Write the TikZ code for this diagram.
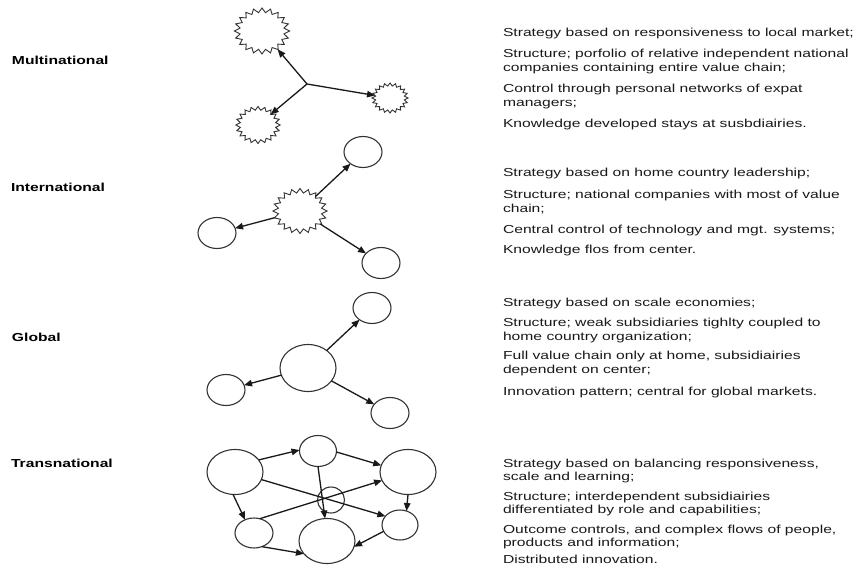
\documentclass[tikz,border=0pt]{standalone}
\usepackage{fontspec}
\setmainfont{Liberation Sans}
\newfontfamily\bodyfont[FakeStretch=1.35]{Liberation Sans}
\usetikzlibrary{shapes.geometric,arrows.meta}

\begin{document}
\begin{tikzpicture}[x=1pt,y=-1pt,
  every node/.style={inner sep=0pt, outer sep=0pt},
  sub/.style={ellipse, draw=black!80, line width=1.1pt, fill=white,
    minimum width=38pt, minimum height=31pt},
  hub/.style={sub, minimum width=56pt, minimum height=46pt},
  burst/.style={star, star points=20, star point ratio=1.24, draw=black!80,
    line width=0.9pt, fill=white, xscale=1.2},
  link/.style={line width=1.3pt, draw=black!90,
    -{Triangle[length=8pt,width=6.5pt]}},
  typelabel/.style={anchor=base west, text=black,
    font=\bodyfont\bfseries\fontsize{11.6}{13}\selectfont},
  note/.style={anchor=base west, text=black!90,
    font=\bodyfont\fontsize{11.6}{13}\selectfont},
]
\fill[white] (0,0) rectangle (858,564);
\useasboundingbox (0,0) rectangle (858,564);

% ---------- row labels ----------
\node[typelabel] (lab1) at (12,64.5) {Multinational};
\node[typelabel] (lab2) at (11,191.5) {International};
\node[typelabel] (lab3) at (12,341.5) {Global};
\node[typelabel] (lab4) at (11,467.5) {Transnational};

% ---------- multinational: independent units ----------
\node[burst, minimum size=46pt] (mTL) at (262,31) {};
\node[burst, minimum size=30pt] (mR)  at (390,98) {};
\node[burst, minimum size=37pt] (mBL) at (258,125) {};
\coordinate (mJ) at (307,84);
\draw[link] (mJ) -- (mTL);
\draw[link] (mJ) -- (mR);
\draw[link] (mJ) -- (mBL);

% ---------- international: star hub ----------
\node[burst, minimum size=45pt] (iC) at (300,211) {};
\node[sub] (iTR) at (363,152) {};
\node[sub] (iL)  at (217,233) {};
\node[sub] (iBR) at (381,263) {};
\draw[link] (iC) -- (iTR);
\draw[link] (iC) -- (iL);
\draw[link] (iC) -- (iBR);

% ---------- global: central hub ----------
\node[hub, minimum height=47pt] (gC) at (308,368) {};
\node[sub] (gTR) at (372,308) {};
\node[sub] (gL)  at (226,390) {};
\node[sub] (gBR) at (390,413) {};
\draw[link] (gC) -- (gTR);
\draw[link] (gC) -- (gL);
\draw[link] (gC) -- (gBR);

% ---------- transnational: integrated network ----------
\node[hub, minimum height=45pt] (tA) at (235,472) {};
\node[sub, minimum width=37pt] (tB) at (318,451) {};
\node[hub, minimum height=45pt] (tC) at (408,472) {};
\node[sub, minimum width=27pt, minimum height=26pt] (tD) at (331,500) {};
\node[sub, minimum height=30pt] (tE) at (254,533) {};
\node[hub, minimum height=45pt] (tF) at (327,541) {};
\node[sub, minimum width=36pt, minimum height=30pt] (tG) at (400,525) {};
\draw[link] (tA.27)  -- (tB.177);
\draw[link] (tB.357) -- (tC.166);
\draw[link] (tB.270) -- (tF.95);
\draw[link] (tA.344) -- (tG.149);
\draw[link] (tE.68)  -- (tC.198);
\draw[link] (tA.265) -- (tE.124);
\draw[link] (tC.270) -- (tG.65);
\draw[link] (tG.201) -- (tF.348);
\draw[link] (tE.300) -- (tF.209);

% ---------- descriptions ----------
\node[note] (m1) at (503,37)    {Strategy based on responsiveness to local market;};
\node[note] (m2) at (503,58)    {Structure; porfolio of relative independent national};
\node[note] (m3) at (503,72)    {companies containing entire value chain;};
\node[note] (m4) at (503,93)    {Control through personal networks of expat};
\node[note] (m5) at (503,107)   {managers;};
\node[note] (m6) at (503,128)   {Knowledge developed stays at susbdiairies.};

\node[note] (i1) at (503,176)   {Strategy based on home country leadership;};
\node[note] (i2) at (503,198)   {Structure; national companies with most of value};
\node[note] (i3) at (503,212)   {chain;};
\node[note] (i4) at (503,233)   {Central control of technology and mgt. systems;};
\node[note] (i5) at (503,253)   {Knowledge flos from center.};

\node[note] (g1) at (503,306)   {Strategy based on scale economies;};
\node[note] (g2) at (503,326)   {Structure; weak subsidiaries tighlty coupled to};
\node[note] (g3) at (503,340)   {home country organization;};
\node[note] (g4) at (503,359.5) {Full value chain only at home, subsidiairies};
\node[note] (g5) at (503,373)   {dependent on center;};
\node[note] (g6) at (503,395)   {Innovation pattern; central for global markets.};

\node[note] (t1) at (503,467)   {Strategy based on balancing responsiveness,};
\node[note] (t2) at (503,480.5) {scale and learning;};
\node[note] (t3) at (503,500)   {Structure; interdependent subsidiairies};
\node[note] (t4) at (503,513.5) {differentiated by role and capabilities;};
\node[note] (t5) at (503,533)   {Outcome controls, and complex flows of people,};
\node[note] (t6) at (503,546.5) {products and information;};
\node[note] (t7) at (503,563)   {Distributed innovation.};
\end{tikzpicture}
\end{document}
